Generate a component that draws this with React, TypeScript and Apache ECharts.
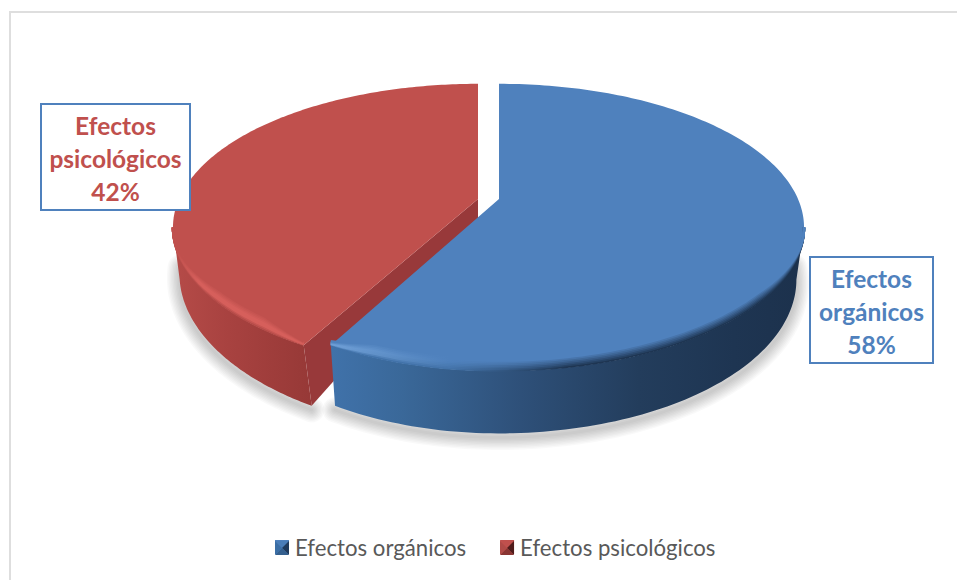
import React, { useEffect, useRef } from "react";
import * as echarts from "echarts";

const categories = ["Efectos orgánicos", "Efectos psicológicos"];
const values = [58, 42];
const centers = [[499, 199], [478, 199]];
const faceColors = ["#4f81bd", "#c0504d"];
const highlightColors = ["#6f9fd6", "#d65f5b"];
const labelBoxes = [[810, 257, 123, 106], [41, 104, 149, 106]];
const leftScale = [0.965, 1];
const bottomScale = [0.975, 0.985];
const bottomSlope = [0, 0.035];
const FONT = "Lato";

const RX = 299, RY = 138, P = 0.198, DEPTH = 50;
const EXTREME = (Math.acos(-P) * 180) / Math.PI;

const rad = (d: number) => (d * Math.PI) / 180;
function top(i: number, deg: number, shift = 0) {
  const [cx, cy] = centers[i];
  const u = Math.sin(rad(deg)), v = -Math.cos(rad(deg));
  const k = 1 / (1 - P * v);
  const sx = u < 0 ? leftScale[i] : 1;
  return [cx + RX * u * k * sx, cy + RY * v * k - shift];
}
function bottom(i: number, deg: number) {
  const [cx, cy] = centers[i];
  const u = Math.sin(rad(deg)), v = -Math.cos(rad(deg));
  const k = 1 / (1 - P * v);
  const sb = bottomScale[i] - bottomSlope[i] * Math.max(0, v);
  const sx = (u < 0 ? leftScale[i] : 1) * sb;
  return [cx + RX * u * k * sx, cy + RY * v * k + DEPTH * k];
}
function range(i: number) {
  const total = values.reduce((a, b) => a + b, 0);
  let start = 0;
  for (let j = 0; j < i; j++) start += (values[j] / total) * 360;
  return [start, start + (values[i] / total) * 360];
}
function samples(a: number, b: number, n = 90) {
  const out: number[] = [];
  for (let t = 0; t <= n; t++) out.push(a + ((b - a) * t) / n);
  return out;
}
function grad(stops: [number, string][], x0: number, x1: number) {
  return new echarts.graphic.LinearGradient(
    x0, 0, x1, 0,
    stops.map(([offset, color]) => ({ offset, color })),
    true
  );
}
const sideFill = (i: number) =>
  i === 0
    ? grad([[0, "#4072aa"], [0.15, "#3a6899"], [0.4, "#2e5079"], [0.65, "#233d5c"], [0.85, "#1e3552"], [1, "#1c314c"]], 331, 805)
    : grad([[0, "#b54b48"], [0.4, "#a84240"], [1, "#973937"]], 174, 310);

function mix(a: string, b: string, t: number) {
  const pa = [1, 3, 5].map((n) => parseInt(a.slice(n, n + 2), 16));
  const pb = [1, 3, 5].map((n) => parseInt(b.slice(n, n + 2), 16));
  return `rgb(${pa.map((c, n) => Math.round(c + (pb[n] - c) * t)).join(",")})`;
}
function bevelStroke(i: number, t: number) {
  const face = faceColors[i], hi = highlightColors[i];
  const outer = (c: string) => (t < 0.25 ? mix(c, hi, t / 0.25) : t < 0.5 ? hi : mix(hi, face, (t - 0.5) / 0.5));
  if (i === 0) {
    const dark = "#1e3552";
    const d = t < 0.75 ? mix(dark, face, t / 0.75) : face;
    return grad([[0, outer("#4072aa")], [0.25, mix("#3a6899", face, Math.min(1, t + 0.45))], [0.5, d], [1, d]], 331, 805);
  }
  const c = outer("#b54b48");
  const c2 = t < 0.5 ? mix("#b54b48", face, t / 0.5) : face;
  return grad([[0, c2], [0.18, c], [1, c]], 174, 310);
}

function shadowItem(_: any, api: any) {
  const i = api.value(0);
  const [a, b] = range(i);
  const from = i === 0 ? EXTREME - 6 : a;
  const to = i === 0 ? b : 360 - EXTREME + 6;
  const points = samples(from, to).map((d) => {
    const p = bottom(i, d);
    return [p[0], p[1] + 4];
  });
  const children: any[] = [];
  for (let n = 9; n >= 1; n--) {
    children.push({
      type: "polyline",
      shape: { points },
      style: { fill: "none", stroke: "rgba(0,0,0,0.022)", lineWidth: n * 2.8, lineCap: "round", lineJoin: "round" },
    });
  }
  return { type: "group", children };
}

function wedgeItem(_: any, api: any) {
  const i = api.value(0);
  const [a, b] = range(i);
  const children: any[] = [];
  const [cx, cy] = centers[i];
  if (i === 1) {
    children.push({
      type: "polygon",
      shape: { points: [top(i, a), bottom(i, a), [cx, cy + DEPTH * 0.4], [cx, cy]] },
      style: { fill: "#98393a" },
    });
  }
  const sideA = i === 0 ? EXTREME : a;
  const sideB = i === 0 ? b : 360 - EXTREME;
  const arc = samples(sideA, sideB);
  children.push({
    type: "polygon",
    shape: { points: [...arc.map((d) => top(i, d)), ...[...arc].reverse().map((d) => bottom(i, d))] },
    style: { fill: sideFill(i) },
  });
  children.push({
    type: "polygon",
    shape: { points: [[cx, cy], ...samples(a, b, 180).map((d) => top(i, d))] },
    style: { fill: faceColors[i] },
  });
  const N = 9, W = 13;
  const cornerDeg = i === 0 ? b : a;
  const extremeDeg = i === 0 ? sideA : sideB;
  for (let n = 0; n < N; n++) {
    const t = n / (N - 1);
    const s = W * t;
    const pts = samples(sideA, sideB).map((d) => {
      const toCorner = Math.min(1, Math.abs(d - cornerDeg) / 8);
      const toExtreme = Math.min(1, Math.abs(d - extremeDeg) / 30);
      return top(i, d, s * (0.25 + 0.75 * toCorner) * toExtreme + 0.7 * toExtreme);
    });
    children.push({
      type: "polyline",
      shape: { points: pts },
      style: { fill: "none", stroke: bevelStroke(i, t), lineWidth: 2.4 },
    });
  }
  return { type: "group", children };
}

function pyramid(x: number, y: number, s: number, colors: string[]) {
  const m = [x + s / 2, y + s / 2];
  const A = [x, y], B = [x + s, y], C = [x + s, y + s], D = [x, y + s];
  return [[A, B], [B, C], [C, D], [D, A]].map(([p, q], n) => ({
    type: "polygon",
    z: 20,
    shape: { points: [p, q, m] },
    style: { fill: colors[n] },
  }));
}

function labelGraphics() {
  return categories.flatMap((name, i) => {
    const [x, y, w, h] = labelBoxes[i];
    const words = name.split(" ");
    return [
      {
        type: "rect",
        z: 10,
        shape: { x, y, width: w, height: h },
        style: { fill: "#ffffff", stroke: "#4f81bd", lineWidth: 2 },
      },
      {
        type: "text",
        z: 11,
        x: x + w / 2,
        y: y + h / 2 + 1,
        style: {
          text: `${words[0]}\n${words[1]}\n${values[i]}%`,
          fill: faceColors[i],
          font: `bold 24.5px ${FONT}`,
          lineHeight: 33,
          align: "center",
          verticalAlign: "middle",
        },
      },
    ];
  });
}

export default function App() {
  const ref = useRef<HTMLDivElement>(null);
  useEffect(() => {
    const chart = echarts.init(ref.current!, undefined, { renderer: "svg" });
    chart.setOption({
      animation: false,
      backgroundColor: "#ffffff",
      legend: {
        data: categories,
        left: 275,
        top: 536,
        padding: 0,
        itemWidth: 14,
        itemHeight: 14,
        itemGap: 34,
        icon: "rect",
        textStyle: { fontFamily: FONT, fontSize: 22.2, color: "#595959", padding: [0, 0, 0, 1] },
      },
      graphic: {
        elements: [
          { type: "polyline", z: 0, silent: true, shape: { points: [[10, 580], [10, 12], [957, 12]] }, style: { fill: "none", stroke: "#dedede", lineWidth: 2 } },
          ...labelGraphics(),
          ...pyramid(275, 541, 14, ["#4a7db8", "#1f3a5c", "#35608f", "#3b6ea5"]),
          ...pyramid(500, 541, 14, ["#c0504d", "#4f1c1b", "#8a3533", "#b04a47"]),
        ],
      },
      series: [
        {
          type: "custom",
          name: "shadow",
          coordinateSystem: "none",
          silent: true,
          z: 1,
          data: values.map((_, i) => [i]),
          renderItem: shadowItem,
        },
        {
          type: "custom",
          name: categories[1],
          coordinateSystem: "none",
          z: 2,
          itemStyle: { color: faceColors[1] },
          data: [[1, values[1]]],
          renderItem: wedgeItem,
        },
        {
          type: "custom",
          name: categories[0],
          coordinateSystem: "none",
          z: 3,
          itemStyle: { color: faceColors[0] },
          data: [[0, values[0]]],
          renderItem: wedgeItem,
        },
      ],
    });
    return () => chart.dispose();
  }, []);
  return (
    <div
      ref={ref}
      style={{ position: "fixed", left: 0, top: 0, width: 957, height: 580, background: "#fff" }}
    />
  );
}
